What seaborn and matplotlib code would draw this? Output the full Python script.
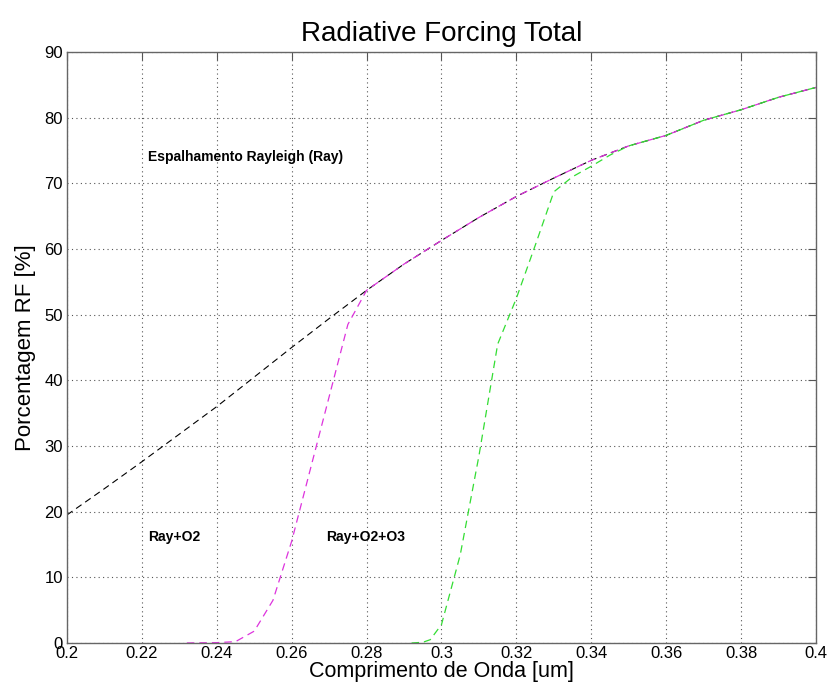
import numpy as np
import pandas as pd
import seaborn as sns
from matplotlib import pyplot as plt

# Rayleigh scattering only
ray_x = [0.20, 0.21, 0.22, 0.23, 0.24, 0.25, 0.26, 0.27, 0.28, 0.29, 0.30,
         0.31, 0.32, 0.33, 0.34, 0.35, 0.36, 0.37, 0.38, 0.39, 0.40]
ray_y = [19.5, 23.5, 27.6, 31.8, 36.0, 40.5, 45.0, 49.4, 53.7, 57.7, 61.3,
         64.8, 68.0, 70.8, 73.5, 75.7, 77.3, 79.6, 81.2, 83.1, 84.6]

# Ray + O2
o2_x = [0.232, 0.24, 0.245, 0.25, 0.255, 0.26, 0.265, 0.27, 0.275, 0.28, 0.29, 0.30,
        0.31, 0.32, 0.33, 0.34, 0.35, 0.36, 0.37, 0.38, 0.39, 0.40]
o2_y = [0.0, 0.05, 0.2, 1.8, 6.5, 15.5, 26.5, 37.5, 48.5, 53.7, 57.7, 61.3,
        64.8, 68.0, 70.8, 73.5, 75.7, 77.3, 79.6, 81.2, 83.1, 84.6]

# Ray + O2 + O3
o3_x = [0.292, 0.295, 0.297, 0.30, 0.305, 0.31, 0.315, 0.32, 0.325, 0.33, 0.335,
        0.34, 0.345, 0.35, 0.36, 0.37, 0.38, 0.39, 0.40]
o3_y = [0.0, 0.1, 0.5, 2.8, 13.4, 28.5, 45.5, 52.5, 60.5, 68.7, 71.0,
        72.6, 74.3, 75.7, 77.3, 79.6, 81.2, 83.1, 84.6]

x_ticks = [0.2, 0.22, 0.24, 0.26, 0.28, 0.3, 0.32, 0.34, 0.36, 0.38, 0.4]
x_tick_labels = ["0.2", "0.22", "0.24", "0.26", "0.28", "0.3", "0.32", "0.34", "0.36", "0.38", "0.4"]
y_ticks = [0, 10, 20, 30, 40, 50, 60, 70, 80, 90]

sns.set_theme(style="white")
plt.rcParams["font.family"] = ["Liberation Sans", "DejaVu Sans"]
plt.rcParams["xtick.direction"] = "in"
plt.rcParams["ytick.direction"] = "in"

fig = plt.figure(figsize=(8.28, 6.93), dpi=100)
ax = fig.add_axes([0.0809, 0.0722, 0.9046, 0.8528])

sns.lineplot(x=ray_x, y=ray_y, ax=ax, color="black", linestyle=(0, (6, 4)), linewidth=0.8)
sns.lineplot(x=o2_x, y=o2_y, ax=ax, color="#dd33dd", linestyle=(0, (6, 4)), linewidth=0.9)
sns.lineplot(x=o3_x, y=o3_y, ax=ax, color="#33dd33", linestyle=(0, (6, 4)), linewidth=0.9)

ax.set_xlim(0.2, 0.4)
ax.set_ylim(0, 90)
ax.set_xticks(x_ticks)
ax.set_xticklabels(x_tick_labels)
ax.set_yticks(y_ticks)
ax.grid(True, linestyle=(0, (1, 3)), color="#555555", linewidth=0.8)
ax.tick_params(axis="both", labelsize=12, length=6, width=0.8, color="#555555",
               top=True, right=True, labelcolor="black")
ax.tick_params(axis="x", pad=2)
ax.tick_params(axis="y", pad=3)
for spine in ax.spines.values():
    spine.set_color("#666666")
    spine.set_linewidth(1.0)

ax.set_title("Radiative Forcing Total", fontsize=20, pad=8, color="black")
ax.set_xlabel("Comprimento de Onda [um]", fontsize=15.5, labelpad=0, color="black")
ax.set_ylabel("Porcentagem RF [%]", fontsize=16, labelpad=6, color="black")

ax.text(0.2216, 74.0, "Espalhamento Rayleigh (Ray)", fontsize=10, fontweight="bold", va="center", color="black")
ax.text(0.2216, 16.1, "Ray+O2", fontsize=10, fontweight="bold", va="center", color="black")
ax.text(0.2692, 16.1, "Ray+O2+O3", fontsize=10, fontweight="bold", va="center", color="black")

fig.savefig("out.png", dpi=100)
